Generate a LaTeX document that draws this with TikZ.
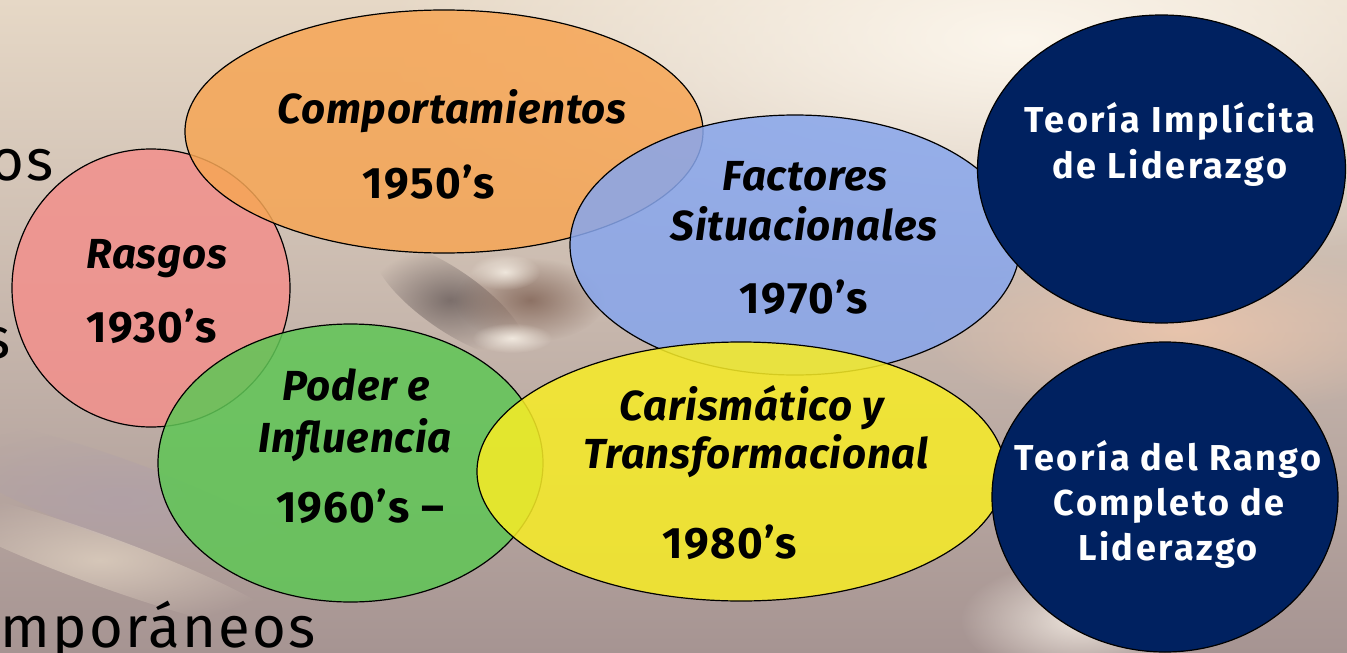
\documentclass[tikz,border=0pt]{standalone}
\usepackage{fontspec}
\setmainfont{Fira Sans}
\usetikzlibrary{shapes.geometric,fadings}

\definecolor{bgtop}{RGB}{230,216,198}
\definecolor{bgmid}{RGB}{212,195,180}
\definecolor{bgbottom}{RGB}{166,148,146}
\definecolor{creamglow}{RGB}{252,246,236}
\definecolor{penbrown}{RGB}{126,96,82}
\definecolor{pendark}{RGB}{104,92,90}
\definecolor{peach}{RGB}{232,196,172}
\definecolor{mauve}{RGB}{176,160,168}
\definecolor{rasgoscol}{RGB}{242,144,140}
\definecolor{comportcol}{RGB}{246,166,86}
\definecolor{podercol}{RGB}{96,198,86}
\definecolor{factorcol}{RGB}{136,166,236}
\definecolor{carismacol}{RGB}{247,236,38}
\definecolor{teorianavy}{RGB}{0,33,96}

\tikzfading[name=softblob, inner color=transparent!0, outer color=transparent!100]

\tikzset{
  bubble/.style={ellipse, draw=black, line width=1.2pt, inner sep=0pt, outer sep=0pt, fill opacity=0.86},
  teoria/.style={ellipse, draw=black, line width=1.2pt, inner sep=0pt, outer sep=0pt, fill=teorianavy},
  lbl/.style={anchor=base, inner sep=0pt, font=\fontsize{42}{46}\selectfont\bfseries\itshape\addfontfeatures{LetterSpace=2}},
  yr/.style={anchor=base, inner sep=0pt, font=\fontsize{44}{48}\selectfont\bfseries\addfontfeatures{LetterSpace=3}},
  wlbl/.style={anchor=base, inner sep=0pt, text=white, font=\fontsize{36}{40}\selectfont\bfseries\addfontfeatures{LetterSpace=7}},
  backtxt/.style={anchor=base east, inner sep=0pt, font=\fontsize{58}{62}\selectfont\addfontfeatures{LetterSpace=4}},
  blob/.style={path fading=softblob}
}

\begin{document}
\begin{tikzpicture}[x=1pt,y=-1pt]
  \useasboundingbox (0,0) rectangle (1347,653);
  \clip (0,0) rectangle (1347,653);

  % background photo, blurred
  \shade[top color=bgtop, middle color=bgmid, bottom color=bgbottom] (0,0) rectangle (1347,653);
  \fill[creamglow, blob] (1020,40) ellipse [x radius=640, y radius=240];
  \fill[peach, blob] (1180,330) ellipse [x radius=260, y radius=90];
  \fill[mauve, blob, opacity=0.8, rotate around={-20:(120,500)}] (120,500) ellipse [x radius=220, y radius=40];
  \fill[bgtop, blob, opacity=0.7, rotate around={-20:(100,560)}] (100,560) ellipse [x radius=200, y radius=25];
  \fill[pendark, blob, opacity=0.8, rotate around={-35:(450,300)}] (450,300) ellipse [x radius=90, y radius=30];
  \fill[penbrown, blob, opacity=0.8] (530,300) ellipse [x radius=75, y radius=42];
  \fill[creamglow, blob, opacity=0.8] (505,272) ellipse [x radius=35, y radius=18];
  \fill[creamglow, blob, opacity=0.8] (512,338) ellipse [x radius=40, y radius=15];
  \fill[creamglow, blob, opacity=0.8] (1080,620) ellipse [x radius=120, y radius=60];

  % cut-off text of the slide behind
  \node[backtxt] (back1) at (54,180) {os};
  \node[backtxt] (back2) at (11,358) {s};
  \node[backtxt] (back3) at (316,647) {mporáneos};

  % bubbles
  \node[bubble, fill=rasgoscol, minimum width=278pt, minimum height=278pt] (rasgos) at (151,288) {};
  \node[bubble, fill=comportcol, minimum width=518pt, minimum height=243pt] (comport) at (444,131.5) {};
  \node[bubble, fill=podercol, minimum width=385pt, minimum height=278pt] (poder) at (350.5,463) {};
  \node[bubble, fill=factorcol, minimum width=450pt, minimum height=260pt] (factores) at (795,245) {};
  \node[bubble, fill=carismacol, minimum width=528pt, minimum height=259pt] (carisma) at (741,471.5) {};
  \node[teoria, minimum width=368pt, minimum height=308pt] (implicita) at (1161.5,169) {};
  \node[teoria, minimum width=346pt, minimum height=310pt] (rango) at (1165,497) {};

  % labels
  \node[lbl] (t-rasgos) at (157,268) {Rasgos};
  \node[yr] (y-rasgos) at (152,342) {1930’s};
  \node[lbl] (t-comport) at (452,123) {Comportamientos};
  \node[yr] (y-comport) at (429,198) {1950’s};
  \node[lbl] (t-poder1) at (356,400) {Poder e};
  \node[lbl] (t-poder2) at (355,452) {Influencia};
  \node[yr] (y-poder) at (360,522) {1960’s –};
  \node[lbl] (t-fact1) at (805,190) {Factores};
  \node[lbl] (t-fact2) at (804,240) {Situacionales};
  \node[yr] (y-fact) at (804,313) {1970’s};
  \node[lbl] (t-caris1) at (752,420) {Carismático y};
  \node[lbl] (t-caris2) at (756,468) {Transformacional};
  \node[yr] (y-caris) at (730,558) {1980’s};
  \node[wlbl] (t-impl1) at (1170,132) {Teoría Implícita};
  \node[wlbl] (t-impl2) at (1170,178) {de Liderazgo};
  \node[wlbl] (t-rango1) at (1168,470) {Teoría del Rango};
  \node[wlbl] (t-rango2) at (1169,515) {Completo de};
  \node[wlbl] (t-rango3) at (1168,560) {Liderazgo};
\end{tikzpicture}
\end{document}
